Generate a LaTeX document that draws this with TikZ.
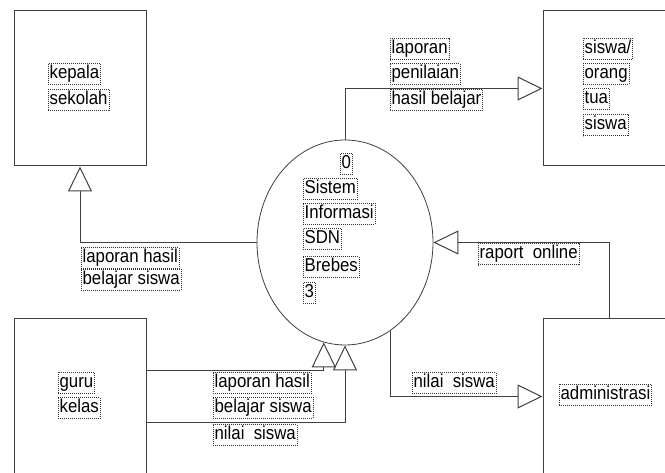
\documentclass[tikz,border=0pt]{standalone}
\usepackage{fontspec}
\setmainfont{Liberation Sans}[FakeStretch=0.9]
\usetikzlibrary{arrows.meta,calc,shapes.geometric}

\tikzset{
  entity/.style={draw=black!75, line width=0.75pt, minimum width=99pt, minimum height=116.25pt, inner sep=0pt},
  process/.style={draw=black!75, line width=0.6pt, ellipse, minimum width=132pt, minimum height=153.75pt, inner sep=0pt},
  flow/.style={draw=black!75, line width=0.75pt, -{Triangle[open, length=18.75pt, width=18pt]}},
  lbl/.style={draw=black!80, line width=0.45pt, dash pattern={on 0.75pt off 0.75pt}, anchor=north west,
    inner xsep=1pt, inner ysep=1.25pt, text height=10.5pt, text depth=3pt, font=\fontsize{14}{16}\selectfont}
}

\begin{document}
\begin{tikzpicture}[x=0.75pt,y=0.75pt,yscale=-1,xscale=1]
\useasboundingbox (0,0) rectangle (665,473);

%Shape: Rectangle [kepala sekolah]
\node [entity] (kepala) at (80,88.5) {};
%Shape: Rectangle [siswa/orang tua]
\node [entity] (siswa) at (609,88.5) {};
%Shape: Rectangle [guru kelas]
\node [entity] (guru) at (80,396.5) {};
%Shape: Rectangle [administrasi]
\node [entity] (admin) at (609,396.5) {};
%Shape: Ellipse [sistem]
\node [process] (sys) at (345,242.5) {};

%Straight Lines
\draw [flow] (sys.west) -| (kepala.south);
%Straight Lines
\draw [flow] (sys.north) |- (siswa.west);
%Straight Lines
\draw [flow] (admin.north) |- (sys.east);
%Straight Lines
\draw [flow] (sys.-63.6) |- (admin.west);
%Straight Lines
\draw [flow] ($(guru.east)+(0,-25.5)$) -| (sys.-102.5);
%Straight Lines
\draw [flow] ($(guru.east)+(0,26.5)$) -| (sys.south);

% Text Node
\node [lbl] (kep1) at (48,63) {kepala};
\node [lbl] (kep2) at (48,89) {sekolah};
% Text Node
\node [lbl] (sis1) at (583,38) {siswa/};
\node [lbl] (sis2) at (583,63) {orang};
\node [lbl] (sis3) at (583,88) {tua};
\node [lbl] (sis4) at (583,114) {siswa};
% Text Node
\node [lbl] (pen1) at (390,38) {laporan};
\node [lbl] (pen2) at (390,63) {penilaian};
\node [lbl] (pen3) at (390,89) {hasil belajar};
% Text Node
\node [lbl] (sys0) at (340,153) {0};
\node [lbl] (sys1) at (303,178) {Sistem};
\node [lbl] (sys2) at (303,203) {Informasi};
\node [lbl] (sys3) at (303,228) {SDN};
\node [lbl] (sys4) at (303,256) {Brebes};
\node [lbl] (sys5) at (303,282) {3};
% Text Node
\node [lbl] (lhk1) at (81,247) {laporan hasil};
\node [lbl] (lhk2) at (81,269) {belajar siswa};
% Text Node
\node [lbl] (rap) at (478,243) {raport\ \ online};
% Text Node
\node [lbl] (gur1) at (58,372) {guru};
\node [lbl] (gur2) at (58,397) {kelas};
% Text Node
\node [lbl] (lhg1) at (213,372) {laporan hasil};
\node [lbl] (lhg2) at (213,397) {belajar siswa};
\node [lbl] (nsg) at (213,424) {nilai\ \ siswa};
% Text Node
\node [lbl] (nsa) at (412,372) {nilai\ \ siswa};
% Text Node
\node [lbl] (adm) at (559,384) {administrasi};

\end{tikzpicture}
\end{document}
